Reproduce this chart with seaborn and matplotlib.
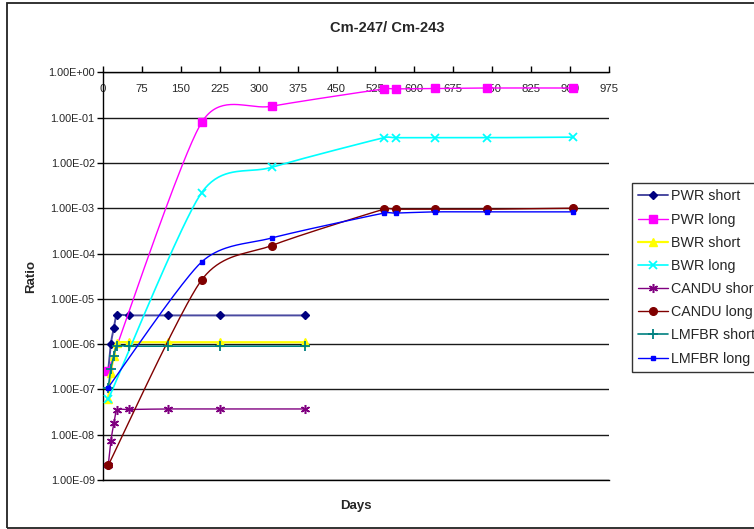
import numpy as np
import pandas as pd
import matplotlib
matplotlib.use("Agg")
import matplotlib.pyplot as plt
import seaborn as sns
from matplotlib.lines import Line2D
from matplotlib.patches import Rectangle
from matplotlib.ticker import FuncFormatter, FixedLocator, NullLocator

# ---------------- data ----------------
title = "Cm-247/ Cm-243"
x_label = "Days"
y_label = "Ratio"
x_ticks = [0, 75, 150, 225, 300, 375, 450, 525, 600, 675, 750, 825, 900, 975]
y_ticks = [1e-9, 1e-8, 1e-7, 1e-6, 1e-5, 1e-4, 1e-3, 1e-2, 1e-1, 1e0]

series_names = ["PWR short", "PWR long", "BWR short", "BWR long",
                "CANDU short", "CANDU long", "LMFBR short", "LMFBR long"]

short_days = [10, 15, 21, 27, 50, 125, 225, 390]
long_days = [10, 190, 325, 541, 564, 640, 739, 905]

pwr_short = [2.6e-7, 1.0e-6, 2.3e-6, 4.3e-6, 4.3e-6, 4.3e-6, 4.3e-6, 4.3e-6]
pwr_long = [2.6e-7, 7.8e-2, 0.178, 0.43, 0.43, 0.44, 0.45, 0.45]
bwr_short = [6.0e-8, 2.3e-7, 5.5e-7, 1.05e-6, 1.1e-6, 1.1e-6, 1.1e-6, 1.1e-6]
bwr_long = [6.0e-8, 2.2e-3, 8.0e-3, 3.6e-2, 3.6e-2, 3.6e-2, 3.6e-2, 3.7e-2]
candu_short = [2.1e-9, 7.1e-9, 1.8e-8, 3.5e-8, 3.6e-8, 3.7e-8, 3.7e-8, 3.7e-8]
candu_long = [2.1e-9, 2.6e-5, 1.5e-4, 9.5e-4, 9.5e-4, 9.5e-4, 9.5e-4, 1.0e-3]
lmfbr_short = [1.1e-7, 2.8e-7, 5.6e-7, 9.0e-7, 9.0e-7, 9.0e-7, 9.0e-7, 9.0e-7]
lmfbr_long = [1.1e-7, 6.5e-5, 2.2e-4, 7.8e-4, 7.8e-4, 8.3e-4, 8.3e-4, 8.3e-4]

series_x = [short_days, long_days, short_days, long_days,
            short_days, long_days, short_days, long_days]
series_y = [pwr_short, pwr_long, bwr_short, bwr_long,
            candu_short, candu_long, lmfbr_short, lmfbr_long]

# ---------------- styles ----------------
line_colors = ["#4a4aa0", "#ff00ff", "#ffff00", "#00ffff",
               "#800080", "#800000", "#008080", "#0000ff"]
marker_colors = ["#000080", "#ff00ff", "#ffff00", "#00ffff",
                 "#800080", "#800000", "#008080", "#0000ff"]
markers = ["D", "s", "^", "x", (6, 2, 0), "o", "+", "s"]
msizes = [4.5, 5.5, 6, 6, 6.5, 5.5, 7, 3.2]
mews = [1, 1, 1, 1.3, 1.1, 1, 1.3, 1]
lws = [1.4, 1.0, 1.6, 1.2, 1.0, 1.0, 1.2, 1.0]

sns.set_style("white")
plt.rcParams["font.family"] = ["Liberation Sans", "DejaVu Sans"]

W, H = 754, 529
fig = plt.figure(figsize=(W / 100, H / 100), dpi=100)
ax = fig.add_axes([103 / W, 1 - 480 / H, (609 - 103) / W, (480 - 72.3) / H])
ax.set_yscale("log")
ax.set_xlim(0, 975)
ax.set_ylim(1e-9, 1e0)
fig.canvas.draw()

TENSION = 1 / 8


def excel_smooth(xs, ys, n=40):
    """Smoothed line (Bezier with capped control points) computed in display space."""
    P = ax.transData.transform(np.column_stack([xs, ys]))
    Pe = np.vstack([P[0], P, P[-1]])
    t = np.linspace(0, 1, n)[:, None]
    out = []
    for i in range(len(P) - 1):
        p0, p1, p2, p3 = Pe[i], Pe[i + 1], Pe[i + 2], Pe[i + 3]
        d12 = np.linalg.norm(p2 - p1)
        d02 = np.linalg.norm(p2 - p0)
        d13 = np.linalg.norm(p3 - p1)
        f = TENSION if d02 * TENSION < d12 / 2 else (d12 / (2 * d02) if d02 > 0 else 0)
        g = TENSION if d13 * TENSION < d12 / 2 else (d12 / (2 * d13) if d13 > 0 else 0)
        c1 = p1 + (p2 - p0) * f
        c2 = p2 - (p3 - p1) * g
        seg = (1 - t) ** 3 * p1 + 3 * (1 - t) ** 2 * t * c1 + 3 * (1 - t) * t ** 2 * c2 + t ** 3 * p2
        out.append(seg if i == 0 else seg[1:])
    S = ax.transData.inverted().transform(np.vstack(out))
    return S[:, 0], S[:, 1]


handles = []
for i, name in enumerate(series_names):
    sx, sy = excel_smooth(series_x[i], series_y[i])
    sns.lineplot(x=sx, y=sy, ax=ax, color=line_colors[i], lw=lws[i],
                 sort=False, estimator=None, legend=False, zorder=3 + i)
    ax.plot(series_x[i], series_y[i], linestyle="none", marker=markers[i],
            ms=msizes[i], mfc=marker_colors[i], mec=marker_colors[i],
            mew=mews[i], zorder=3.5 + i)
    handles.append(Line2D([], [], color=line_colors[i], lw=lws[i], marker=markers[i],
                          ms=msizes[i], mfc=marker_colors[i], mec=marker_colors[i],
                          mew=mews[i], label=name))

# axes styling
ax.yaxis.set_major_locator(FixedLocator(y_ticks))
ax.yaxis.set_minor_locator(NullLocator())
ax.yaxis.set_major_formatter(FuncFormatter(lambda v, p: f"{v:.2E}"))
ax.xaxis.set_major_locator(FixedLocator(x_ticks))
ax.grid(axis="y", color="#1a1a1a", lw=1.0)
ax.grid(axis="x", visible=False)
for s in ["left", "top", "bottom"]:
    ax.spines[s].set_color("black")
    ax.spines[s].set_linewidth(1.0)
ax.spines["right"].set_visible(False)

ax.tick_params(axis="y", which="major", direction="out", length=4, width=1,
               color="black", labelsize=7.8, pad=2, left=True)
ax.tick_params(axis="x", which="major", direction="out", length=4, width=1,
               color="black", labelsize=8.2, top=True, bottom=False,
               labeltop=True, labelbottom=False, pad=-19.5)

ax.set_ylabel(y_label, fontsize=9.5, fontweight="bold", labelpad=8)
ax.set_xlabel(x_label, fontsize=9.5, fontweight="bold", labelpad=14.5)
ax.xaxis.set_label_position("bottom")

fig.text(387 / W, 1 - 28 / H, title, ha="center", va="center",
         fontsize=10.5, fontweight="bold")

leg = fig.legend(handles=handles, loc="upper left",
                 bbox_to_anchor=(632 / W, 1 - 183 / H), frameon=True,
                 fancybox=False, shadow=False, edgecolor="black",
                 fontsize=10.3, handlelength=2.1, handletextpad=0.2,
                 labelspacing=0.64, borderpad=0.45, borderaxespad=0)
leg.get_frame().set_linewidth(1.0)

fig.patches.append(Rectangle((7 / W, 1.5 / H), 1.2, (527 - 2) / H,
                             transform=fig.transFigure, fill=False,
                             edgecolor="#222222", lw=1.3))

fig.savefig("out.png", dpi=100)
